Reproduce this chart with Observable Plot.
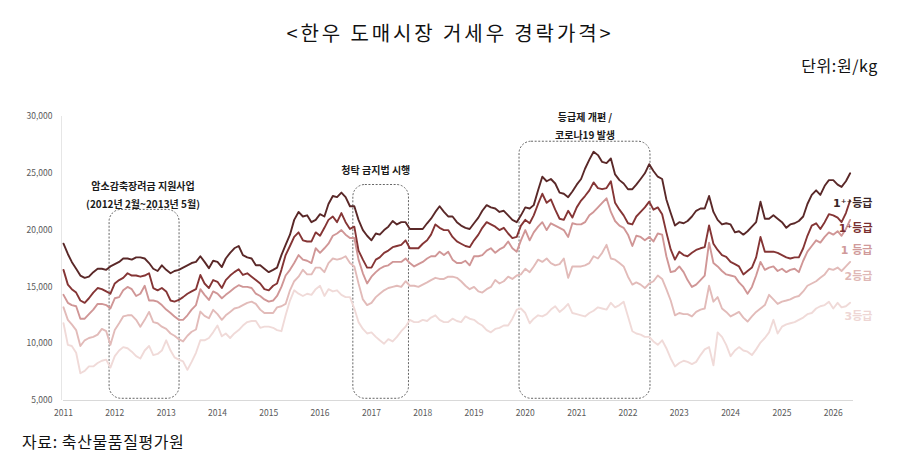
<!DOCTYPE html>
<html>
<head>
<meta charset="utf-8">
<script src="https://cdn.jsdelivr.net/npm/d3@7"></script>
<script src="https://cdn.jsdelivr.net/npm/@observablehq/plot@0.6"></script>
<style>
  body { margin: 0; background: #fff; font-family: "Noto Sans CJK KR", "Noto Sans", sans-serif; }
  #wrap { position: relative; width: 900px; height: 466px; overflow: hidden; background: #fff; }
  #title { position: absolute; top: 19px; left: 0; width: 900px; text-align: center; font-size: 20px; line-height: 28px; letter-spacing: 2.9px; color: #111; }
  #unit { position: absolute; top: 54px; right: 22px; font-size: 16px; line-height: 22px; letter-spacing: 0.6px; color: #111; }
  #source { position: absolute; top: 429px; left: 22px; font-size: 16px; line-height: 24px; letter-spacing: 0.6px; color: #111; }
  #chart { position: absolute; top: 80px; left: 0; }
</style>
</head>
<body>
<div id="wrap">
  <div id="title">&lt;한우 도매시장 거세우 경락가격&gt;</div>
  <div id="unit">단위:원/kg</div>
  <div id="chart"></div>
  <div id="source">자료: 축산물품질평가원</div>
</div>
<script>
// Monthly series, Jan 2011 .. May 2026 (원/kg)
const grade1pp = [
  18800,17900,17200,16600,16000,15800,15900,16300,16600,16600,16500,16800,
  17000,17200,17500,17500,17400,17600,17600,17500,17100,16600,16400,16900,
  16500,16200,16400,16500,16700,16900,17100,17200,17700,17200,16650,17300,
  17200,16750,17500,18000,18400,18600,17800,17600,17500,16900,16900,16600,
  16300,16500,16700,17800,18700,19600,20900,21600,21200,21300,20700,20900,
  21400,21200,22300,23000,22900,23300,22900,22100,22100,20900,20000,19500,
  19100,19700,19600,20000,20300,20800,20500,20700,20700,20100,20100,20100,
  20100,20600,21000,21600,22100,21600,21200,21200,20700,20400,20200,20100,
  20600,21100,21700,22200,22000,21900,21600,21700,21300,20900,20700,21300,
  22000,21900,22200,23500,24700,24300,24500,24100,23300,23200,22900,23400,
  24000,24500,25400,26200,26900,26600,26000,25900,26300,24900,24400,24100,
  23600,23600,24000,24500,25000,25800,25200,24700,24500,22700,21500,20400,
  20700,20600,20800,21200,21700,21900,21900,23000,21600,20900,20500,20600,
  20500,19800,19900,19600,19900,20300,20700,22500,21000,21000,21300,21000,
  20700,20200,20500,20600,20800,21200,22300,23100,23500,23100,23900,24400,
  24400,24000,23800,24300,25000
];
const grade1p = [
  16500,15200,14800,14500,13800,13600,14000,14500,14900,14800,14600,14400,
  15300,15600,15800,16200,16000,16000,15900,16000,16200,14900,14700,14900,
  14600,13800,13700,13850,14100,14400,14600,14800,16050,15300,14900,15600,
  15450,14900,15600,16000,16300,16550,16050,16200,15900,15600,15300,14800,
  14700,15100,15300,16500,17800,18600,19400,19800,19100,19000,19000,19800,
  19500,20200,20900,21200,20700,21500,20700,20100,20300,18200,17400,16700,
  16700,17400,17600,18000,18200,18500,18600,18700,19100,18400,18400,18400,
  18800,19100,19600,20500,20200,20000,20000,19400,19000,18800,18600,18500,
  19100,19600,20200,20700,20500,20300,20000,20200,19700,19300,19400,20400,
  20900,20600,21300,22300,23200,22400,22700,21800,21000,20900,21700,21100,
  22000,22600,23000,23500,24200,23700,23600,23700,24300,22400,21800,21300,
  20600,20500,21200,21600,22000,22500,21800,22000,21400,19800,18300,17400,
  18100,17800,17700,18000,18250,18400,18500,20400,18800,18250,17800,17650,
  17200,17000,16800,16100,16400,16700,17600,19400,18100,18100,18100,18000,
  17800,17600,17500,17600,17600,18400,19500,20400,20600,20100,20700,21400,
  21300,21100,20700,21500,22600
];
const grade1 = [
  14300,13600,13400,13300,12200,12200,12600,13000,13500,13500,13400,13100,
  14000,14100,14700,15000,14800,14200,14400,15100,13800,13800,13700,13400,
  13000,12700,12400,12100,12100,12500,13000,13400,14800,14300,13850,14600,
  14400,14000,14300,14600,14900,15150,15000,15000,14900,14400,14200,13900,
  13700,13800,14200,15000,16000,16500,17100,17800,17400,17300,17100,18400,
  18000,18400,18800,19500,19700,20000,19600,19300,19300,17400,16200,15300,
  15900,16300,16600,16800,16900,17200,17200,17200,17500,17100,16800,17000,
  17200,17500,17700,17700,18100,17800,18100,17400,17100,17100,17300,16900,
  17700,17700,17800,18200,18400,18000,18300,18500,19000,18400,18100,19100,
  20000,19100,19800,20300,20700,20000,20600,20400,20200,20000,19400,20600,
  20500,20500,20700,21300,21600,22000,22400,22800,21600,20800,20400,20200,
  19600,18600,19500,19400,19100,19400,19000,19700,19600,17700,16300,16400,
  16800,16300,15600,15000,15200,15600,16000,18900,17100,16800,16400,16100,
  16000,15900,15400,15000,14400,15000,16000,17200,16500,16700,16800,16400,
  16600,16300,16500,16600,16300,17300,18100,18600,19100,18900,19400,19800,
  19600,19900,19500,20100,20900
];
const grade2 = [
  13200,12100,11700,11200,9800,10300,10500,10600,10800,11300,11100,9900,
  11200,11800,12400,12500,12500,12100,11500,12100,12800,11900,11800,11500,
  11300,10900,10700,10400,10200,10700,11050,11250,12830,12450,12240,12980,
  12600,12100,12500,12800,13100,13200,13400,13600,13700,13500,13000,12700,
  12700,12700,13200,13300,13500,14700,15500,15900,16500,16100,16100,16700,
  16700,16300,17100,17500,17400,17500,17700,17100,16800,15300,13900,13400,
  13600,14100,14400,14700,14900,15000,15100,15000,15500,15100,15100,15000,
  15200,15400,15600,15800,15700,15700,15900,15900,15800,15500,15100,14800,
  15000,14600,14500,14800,15000,15600,15300,15500,15900,15700,16000,16100,
  16600,16300,16800,17400,17200,17500,17100,16900,17000,17500,15800,16800,
  16800,16800,16900,17100,17700,17500,18000,18700,17500,17400,17100,16800,
  15900,15200,15400,15200,14900,15300,15500,16000,15700,14800,13800,12500,
  12700,12600,12600,12400,12800,13000,13100,15100,13700,14100,13100,12800,
  12400,12600,12800,12300,11950,12400,12800,13100,13400,14300,13900,13500,
  13700,13800,13900,14100,14200,14600,15100,15300,15500,15800,16100,16600,
  16500,16700,16400,16800,17200
];
const grade3 = [
  11800,9900,9800,9200,7400,7600,8000,8000,8300,8500,8600,7900,
  8900,9400,9700,9600,9300,8900,8700,9400,9800,9000,9100,9400,
  10300,9400,8800,8600,8450,7700,8400,9200,10300,10300,10500,11000,
  11600,10650,10900,10500,10900,11200,11600,11900,12000,12000,11400,11500,
  11500,11400,11200,11100,12500,13800,14700,14400,14200,14400,14300,14800,
  15100,14200,14800,14600,14700,14300,14100,14100,13100,11900,11300,10900,
  11000,10600,10300,10000,10400,10200,10600,11100,11500,12100,11900,11900,
  12100,12000,12300,12500,12100,11900,11900,12200,12000,11900,12400,12200,
  12100,11800,11600,11200,11000,11300,11400,11600,11600,12200,13000,13100,
  12700,11800,12200,12500,12400,12600,13000,13300,12800,13100,13500,12700,
  12600,12500,12400,12700,12900,13200,13100,13000,13600,13200,13400,13700,
  12400,11100,10900,10800,10600,10600,10200,9900,10300,9600,8700,8000,
  8300,8500,8400,8200,8400,9000,9500,9700,8100,11000,10600,9900,
  8900,9400,9700,9400,9300,9000,9500,10100,10500,11000,12100,10900,
  11500,11700,11800,11900,12100,12300,12600,12700,13100,13300,13400,13700,
  13100,13600,13200,13300,13600
];

const gradeNames = ["1⁺⁺등급", "1⁺등급", "1 등급", "2등급", "3등급"];
const gradeColors = ["#5a2828", "#853535", "#d09696", "#e2bbb9", "#f0dad8"];
const labelColors = ["#3a2626", "#7a2e2e", "#d09a9a", "#dfb8b6", "#eed6d4"];
const labelValues = [22360, 20160, 18250, 15900, 12380];
const years = d3.range(2011, 2027);
const yTicks = [5000, 10000, 15000, 20000, 25000, 30000];

const annotations = [
  {label: "암소감축장려금 지원사업\n(2012년 2월~2013년 5월)", start: "2011-11-25", end: "2013-04-06", top: 21780, bottom: 5150, textX: "2012-07-20", textY: 23240},
  {label: "청탁 금지법 시행", start: "2016-08-25", end: "2017-09-25", top: 23970, bottom: 5150, textX: "2017-02-01", textY: 25440},
  {label: "등급제 개편 /\n코로나19 발생", start: "2019-11-21", end: "2022-06-10", top: 27780, bottom: 5150, textX: "2021-03-01", textY: 29320}
].map(d => ({...d, start: new Date(d.start), end: new Date(d.end), textX: new Date(d.textX)}));

const seriesValues = [grade1pp, grade1p, grade1, grade2, grade3];
const series = seriesValues.map((vals, i) => ({
  name: gradeNames[i],
  color: gradeColors[i],
  data: vals.map((v, m) => ({date: new Date(Date.UTC(2011, m, 1)), value: v}))
}));

const labels = gradeNames.map((n, i) => ({name: n, value: labelValues[i], color: labelColors[i]}));

const font = '"Noto Sans CJK KR", "Noto Sans", sans-serif';
const labelFont = '"DejaVu Sans", "Noto Sans CJK KR", sans-serif';

const chart = Plot.plot({
  width: 900,
  height: 345,
  marginLeft: 63,
  marginRight: 47,
  marginTop: 36,
  marginBottom: 25,
  style: {fontFamily: font, fontSize: "8.5px", color: "#595959", background: "transparent", overflow: "visible"},
  x: {
    type: "utc",
    domain: [new Date(Date.UTC(2011, 0, 1)), new Date(Date.UTC(2026, 4, 25))],
    ticks: years.map(y => new Date(Date.UTC(y, 0, 1))),
    tickFormat: d3.utcFormat("%Y"),
    tickSize: 0,
    tickPadding: 9,
    label: null
  },
  y: {
    domain: [5000, 30000],
    ticks: yTicks,
    tickFormat: d3.format(","),
    tickSize: 0,
    tickPadding: 11,
    label: null
  },
  marks: [
    Plot.ruleY([5000], {stroke: "#d9d9d9", strokeWidth: 1}),
    Plot.ruleX([new Date(Date.UTC(2011, 0, 1))], {stroke: "#e6e6e6", strokeWidth: 1, dx: -2}),
    Plot.rect(annotations, {x1: "start", x2: "end", y1: "bottom", y2: "top", rx: 12, fill: "none", stroke: "#555", strokeWidth: 0.9, strokeDasharray: "2,1.6"}),
    Plot.text(annotations, {x: "textX", y: "textY", text: "label", lineAnchor: "middle", lineHeight: 1.75, fontSize: 10, fontWeight: 600, fill: "#1a1a1a", fontFamily: font}),
    ...series.slice().reverse().map(s =>
      Plot.lineY(s.data, {x: "date", y: "value", stroke: s.color, strokeWidth: 1.9, strokeLinejoin: "round"})
    ),
    Plot.text(labels, {y: "value", text: "name", frameAnchor: "right", dx: 19, textAnchor: "end", fill: d => d.color, fontSize: 11, fontWeight: 700, fontFamily: labelFont})
  ]
});

document.getElementById("chart").appendChild(chart);
</script>
</body>
</html>
